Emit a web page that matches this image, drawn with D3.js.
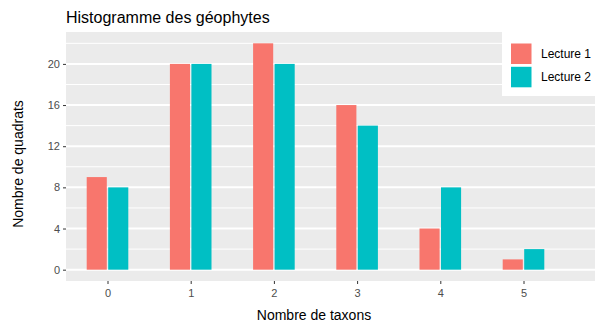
<!DOCTYPE html>
<html><head><meta charset="utf-8">
<script src="https://cdn.jsdelivr.net/npm/d3@7"></script>
<style>body{margin:0;background:#fff}svg{display:block}text{font-family:"Liberation Sans",Arial,sans-serif}</style>
</head><body>
<svg id="c" width="595" height="327"></svg>
<script>
const categories = [0, 1, 2, 3, 4, 5];
const lecture1 = [9, 20, 22, 16, 4, 1];
const lecture2 = [8, 20, 20, 14, 8, 2];
const seriesNames = ["Lecture 1", "Lecture 2"];
const colors = ["#F8766D", "#00BFC4"];
const yTicks = [0, 4, 8, 12, 16, 20];
const yMinor = [2, 6, 10, 14, 18, 22];

const svg = d3.select("#c");
const panel = {left: 66, right: 595, top: 32, bottom: 281};
const x = d3.scaleLinear().domain([0, 5]).range([107.5, 523.5]);
const y = d3.scaleLinear().domain([-1.1, 23.1]).range([panel.bottom, panel.top]);
const barW = x(1) - x(0);
const half = barW * 0.25;

svg.append("rect").attr("x", panel.left).attr("y", panel.top)
  .attr("width", panel.right - panel.left).attr("height", panel.bottom - panel.top)
  .attr("fill", "#EBEBEB");

svg.selectAll(".minor").data(yMinor).join("line")
  .attr("x1", panel.left).attr("x2", panel.right)
  .attr("y1", d => y(d)).attr("y2", d => y(d))
  .attr("stroke", "#fff").attr("stroke-width", 1);
svg.selectAll(".major").data(yTicks).join("line")
  .attr("x1", panel.left).attr("x2", panel.right)
  .attr("y1", d => y(d)).attr("y2", d => y(d))
  .attr("stroke", "#fff").attr("stroke-width", 2);

const series = [lecture1, lecture2];
series.forEach((vals, si) => {
  svg.append("g").selectAll("rect").data(categories).join("rect")
    .attr("x", (d, i) => x(d) - half + si * half + (si === 0 ? 0 : 0.7))
    .attr("width", half - 0.7)
    .attr("y", (d, i) => y(vals[i]))
    .attr("height", (d, i) => y(0) - y(vals[i]))
    .attr("fill", colors[si]);
});

// y axis
const yAxis = svg.append("g").attr("transform", `translate(${panel.left},0)`)
  .call(d3.axisLeft(y).tickValues(yTicks).tickSize(3).tickPadding(3));
yAxis.select(".domain").remove();
yAxis.selectAll("line").attr("stroke", "#333");
yAxis.selectAll("text").attr("fill", "#4D4D4D").style("font-size", "11px").style("font-family", '"Liberation Sans",Arial,sans-serif');

const xAxis = svg.append("g").attr("transform", `translate(0,${panel.bottom})`)
  .call(d3.axisBottom(x).tickValues(categories).tickFormat(d3.format("d")).tickSize(3).tickPadding(5));
xAxis.select(".domain").remove();
xAxis.selectAll("line").attr("stroke", "#333");
xAxis.selectAll("text").attr("fill", "#4D4D4D").style("font-size", "11px").style("font-family", '"Liberation Sans",Arial,sans-serif');

svg.append("text").attr("x", panel.left).attr("y", 23)
  .attr("font-size", 16).attr("fill", "#000").text("Histogramme des géophytes");
svg.append("text").attr("x", 314).attr("y", 320).attr("text-anchor", "middle")
  .attr("font-size", 14).attr("fill", "#000").text("Nombre de taxons");
svg.append("text").attr("transform", "translate(23,164) rotate(-90)").attr("text-anchor", "middle")
  .attr("font-size", 14).attr("fill", "#000").text("Nombre de quadrats");

// legend
const lg = svg.append("g");
lg.append("rect").attr("x", 502).attr("y", 32).attr("width", 93).attr("height", 64).attr("fill", "#fff");
seriesNames.forEach((n, i) => {
  lg.append("rect").attr("x", 511).attr("y", 43.5 + i * 23.3).attr("width", 20.5).attr("height", 20.5).attr("fill", colors[i]);
  lg.append("text").attr("x", 541).attr("y", 58 + i * 23.3).attr("font-size", 12).attr("fill", "#000").text(n);
});
</script>
</body></html>
